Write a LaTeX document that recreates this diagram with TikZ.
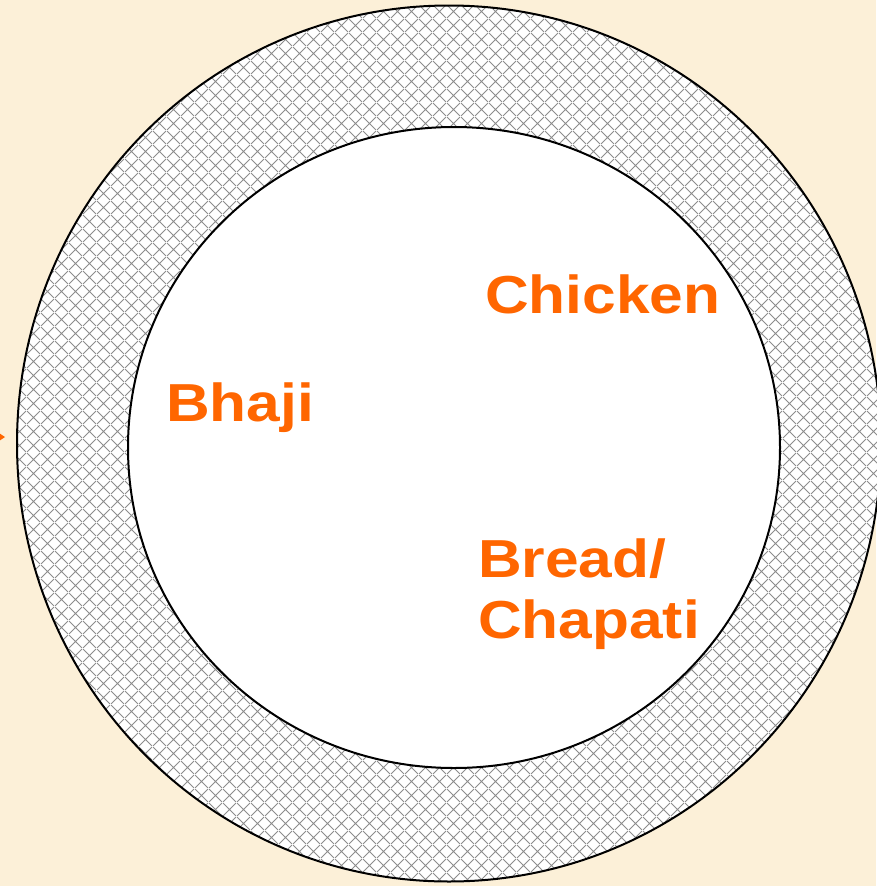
\documentclass[tikz,border=0pt]{standalone}
\usepackage{fontspec}
\usetikzlibrary{patterns.meta}
\newfontfamily\labfont{Liberation Sans}[FakeStretch=1.13]
\definecolor{bg}{HTML}{FCF0D8}
\definecolor{lab}{HTML}{FF6600}
\definecolor{hatch}{HTML}{8C8C8C}
\pgfdeclarepattern{
  name=diamondhatch, type=uncolored,
  bottom left={\pgfpoint{0pt}{0pt}},
  top right={\pgfpoint{13.5pt}{13.5pt}},
  tile size={\pgfpoint{13.5pt}{13.5pt}},
  code={
    \pgfsetlinewidth{0.85pt}
    \pgfpathmoveto{\pgfpoint{0pt}{0pt}}\pgfpathlineto{\pgfpoint{13.5pt}{13.5pt}}
    \pgfpathmoveto{\pgfpoint{0pt}{13.5pt}}\pgfpathlineto{\pgfpoint{13.5pt}{0pt}}
    \pgfusepath{stroke}
  }}
\tikzset{
  lbl/.style={text=lab, inner sep=0pt, font=\labfont\bfseries\fontsize{53.5}{61}\selectfont, align=left},
  rim/.style={draw=black, line width=2pt},
}
\begin{document}
\begin{tikzpicture}[x=1pt,y=-1pt]
\useasboundingbox (0,0) rectangle (876,886);
\fill[bg] (0,0) rectangle (876,886);
% plate rim
\fill[white] (449,443.5) ellipse [x radius=432, y radius=438];
\fill[pattern=diamondhatch, pattern color=hatch] (449,443.5) ellipse [x radius=432, y radius=438];
\draw[rim] (449,443.5) ellipse [x radius=432, y radius=438];
% plate centre
\fill[white] (454,447.5) ellipse [x radius=326, y radius=320.5];
\draw[rim] (454,447.5) ellipse [x radius=326, y radius=320.5];
% arrow tip at left edge
\fill[lab] (-4,431) -- (5,437) -- (-4,443) -- cycle;
% labels
\node[lbl, anchor=base west] (chicken) at (485,313) {Chicken};
\node[lbl, anchor=base west] (bhaji) at (166,421) {Bhaji};
\node[lbl, anchor=north west] (bread) at (478,539) {Bread/\\Chapati};
\end{tikzpicture}
\end{document}
